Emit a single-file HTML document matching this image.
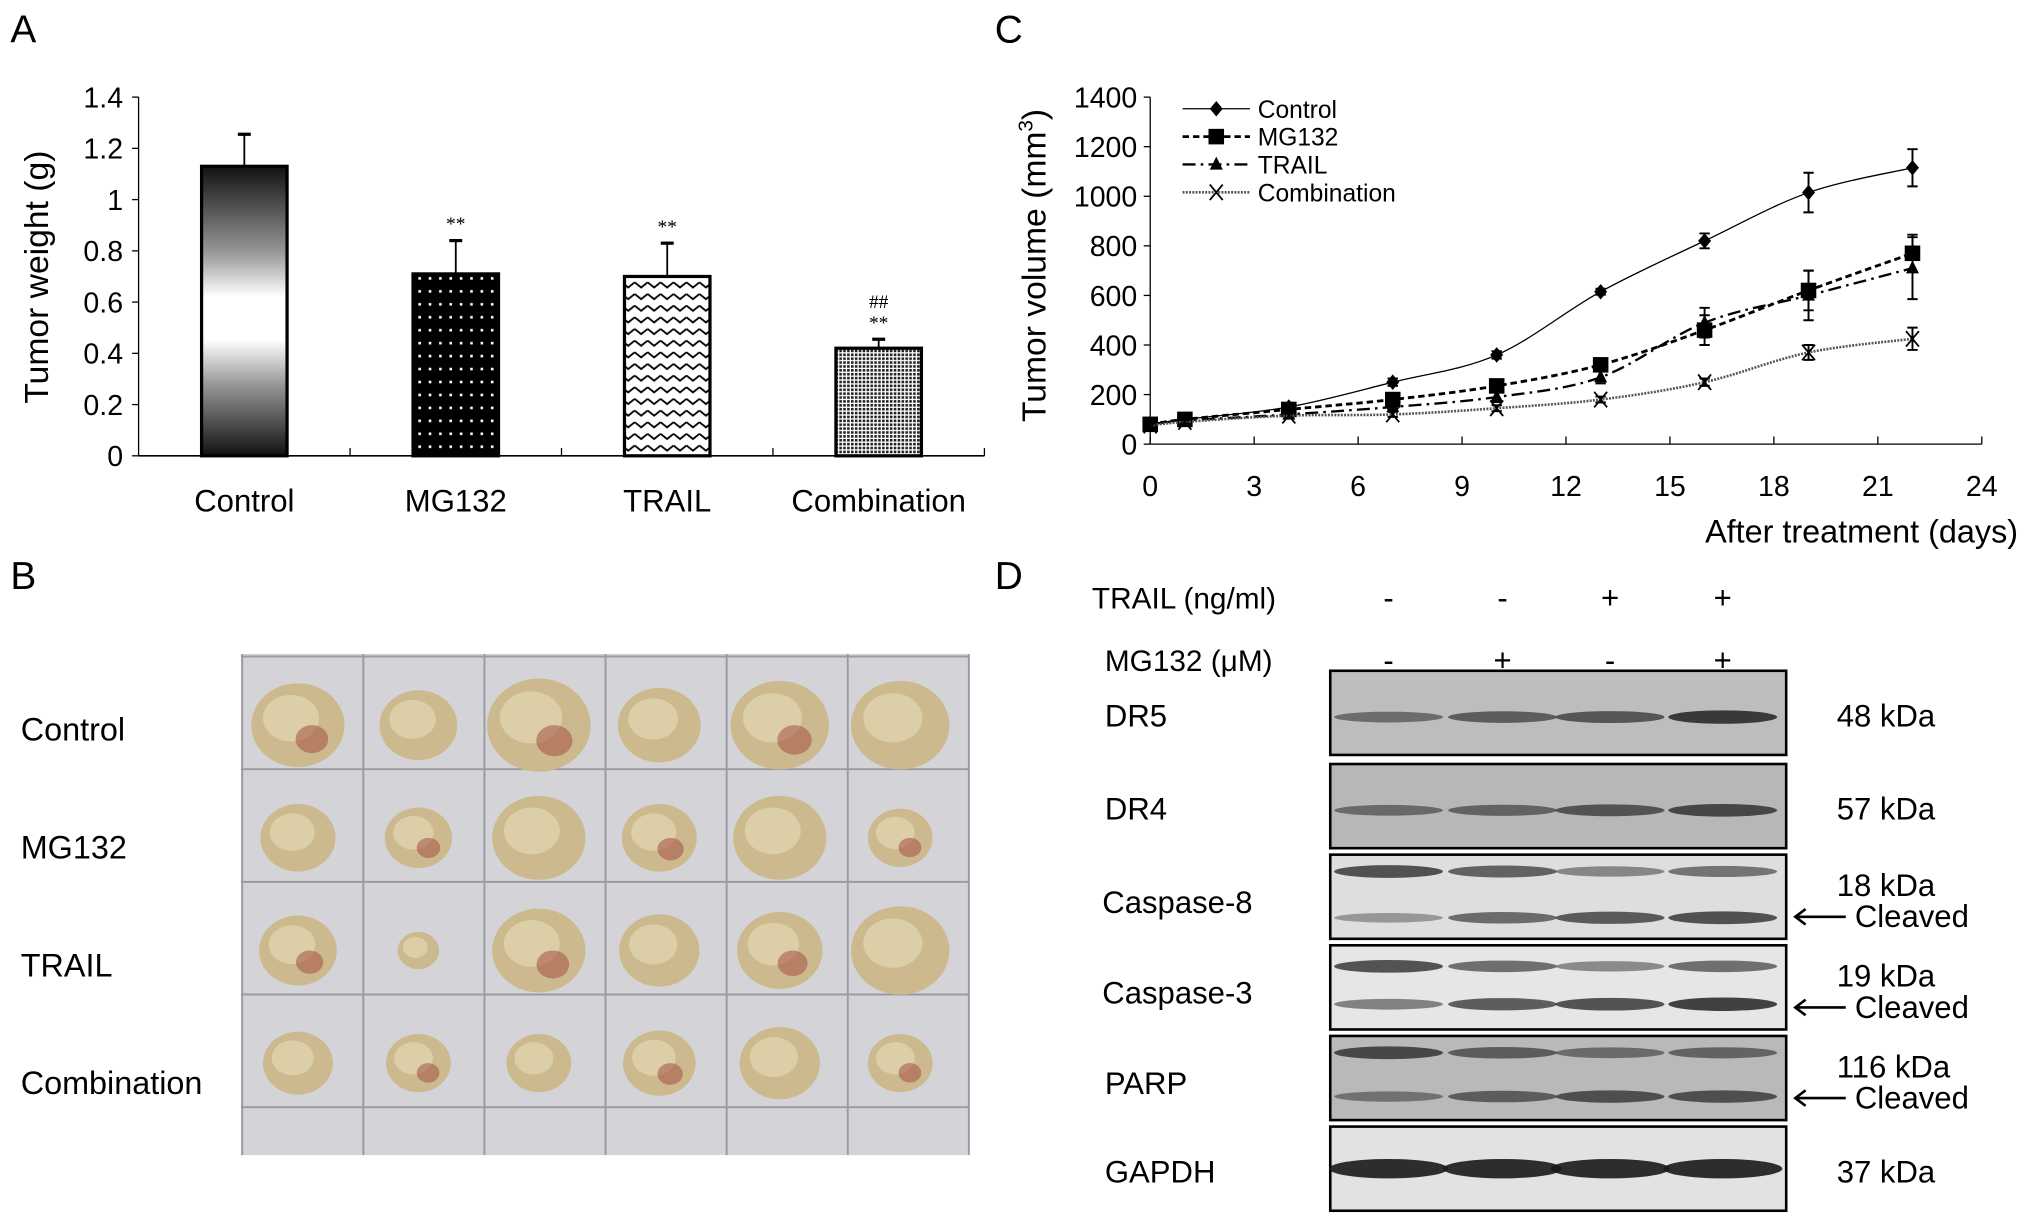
<!DOCTYPE html>
<html><head><meta charset="utf-8"><style>
html,body{margin:0;padding:0;background:#fff;}
svg{display:block;font-family:"Liberation Sans",sans-serif;}
</style></head><body>
<svg id="fig" width="2031" height="1225" viewBox="0 0 1568 946" preserveAspectRatio="none" xmlns="http://www.w3.org/2000/svg">
<defs>
<linearGradient id="gctrl" x1="0" y1="0" x2="0" y2="1">
<stop offset="0" stop-color="#111"/><stop offset="0.3" stop-color="#999"/><stop offset="0.45" stop-color="#fff"/><stop offset="0.6" stop-color="#fff"/><stop offset="0.75" stop-color="#999"/><stop offset="1" stop-color="#111"/></linearGradient>
<pattern id="pdots" width="8" height="10" patternUnits="userSpaceOnUse"><rect width="8" height="10" fill="#000"/><rect x="3" y="4" width="2" height="2" fill="#fff"/></pattern>
<pattern id="pzig" width="10" height="9" patternUnits="userSpaceOnUse"><rect width="10" height="9" fill="#fff"/><path d="M0,2 L5,6 L10,2" fill="none" stroke="#000" stroke-width="1.4"/></pattern>
<pattern id="pcheck" width="3" height="3" patternUnits="userSpaceOnUse"><rect width="3" height="3" fill="#fff"/><rect width="2" height="2" fill="#222"/></pattern>
</defs>
<g id="panelA"></g>
<g id="panelC"></g>
<g id="panelB"></g>
<g id="panelD"></g>
</svg>
<script>
// ---- Panel A data
const aCategories = ["Control","MG132","TRAIL","Combination"];
const aValues = [1.13, 0.71, 0.70, 0.42];
const aErrors = [0.125, 0.13, 0.13, 0.035];
const aTicks = [0,0.2,0.4,0.6,0.8,1,1.2,1.4];
const aTickLabels = ["0","0.2","0.4","0.6","0.8","1","1.2","1.4"];
const aMarks = ["", "**", "**", "**"];
// ---- Panel C data
const cDays = [0,1,4,7,10,13,16,19,22];
const cControl = [80,100,150,250,360,615,820,1015,1115];
const cMG132 = [80,100,140,180,235,320,460,620,770];
const cTRAIL = [80,95,120,150,190,270,490,600,710];
const cCombination = [75,90,115,120,145,180,250,370,425];
const cControlErr = [10,10,15,15,15,12,30,80,75];
const cMG132Err = [10,10,12,20,20,25,60,80,75];
const cTRAILErr = [10,10,12,15,20,25,60,100,125];
const cCombinationErr = [8,8,10,10,12,12,15,30,45];
const cXTicks = [0,3,6,9,12,15,18,21,24];
const cYTicks = [0,200,400,600,800,1000,1200,1400];

const NS="http://www.w3.org/2000/svg";
function mk(parent,tag,attrs,text){const e=document.createElementNS(NS,tag);for(const k in attrs)e.setAttribute(k,attrs[k]);if(text!==undefined)e.textContent=text;parent.appendChild(e);return e;}

// ===== Panel A
(function(){
const g=document.getElementById('panelA');
let t=mk(g,'text',{x:8,y:33,'font-size':30},'A');


const x0=107,x1=760,y0=352,yTop=75,maxV=1.4;
const ya=v=>y0-(v/maxV)*(y0-yTop);
const band=(x1-x0)/aCategories.length;
const xa=i=>x0+band*(i+0.5);
let ax=mk(g,'line',{x1:x0,y1:yTop,x2:x0,y2:y0,stroke:'#000','stroke-width':1});


let bx=mk(g,'line',{x1:x0,y1:y0,x2:x1,y2:y0,stroke:'#000','stroke-width':1.3});


aTicks.forEach((v,i)=>{
 mk(g,'line',{x1:x0-5,y1:ya(v),x2:x0,y2:ya(v),stroke:'#000'});
 const l=mk(g,'text',{x:x0-12,y:ya(v)+8,'font-size':22,'text-anchor':'end'},aTickLabels[i]);
 
 
});
for(let i=1;i<=aCategories.length;i++) mk(g,'line',{x1:x0+band*i,y1:y0-6,x2:x0+band*i,y2:y0,stroke:'#000'});
const fills=['url(#gctrl)','url(#pdots)','url(#pzig)','url(#pcheck)'];
aCategories.forEach((c,i)=>{
 const w=66,cx=xa(i);
 const top=ya(aValues[i]), et=ya(aValues[i]+aErrors[i]);
 mk(g,'line',{x1:cx,y1:top,x2:cx,y2:et,stroke:'#000','stroke-width':1.4});
 mk(g,'line',{x1:cx-5,y1:et,x2:cx+5,y2:et,stroke:'#000','stroke-width':2.5});
 const r=mk(g,'rect',{x:cx-w/2,y:top,width:w,height:y0-top,fill:fills[i],stroke:'#000','stroke-width':2.5});
 
 
 const l=mk(g,'text',{x:cx,y:395,'font-size':24,'text-anchor':'middle'},c);
 
 
 if(aMarks[i]){const s=mk(g,'text',{x:cx,y:et-8,'font-size':15,'text-anchor':'middle','font-family':'Liberation Serif'},aMarks[i]);
  
  }
 if(i===3){const s=mk(g,'text',{x:cx,y:et-24,'font-size':15,'text-anchor':'middle','font-family':'Liberation Serif'},'##');
  
  }
});
const yt=mk(g,'text',{transform:'translate(37,214) rotate(-90)','font-size':26,'text-anchor':'middle'},'Tumor weight (g)');


})();

// ===== Panel C
(function(){
const g=document.getElementById('panelC');
let t=mk(g,'text',{x:768,y:33,'font-size':30},'C');


const x0=888,x1=1530,y0=343,yTop=75;
const xs=d=>x0+d/24*(x1-x0);
const ys=v=>y0-v/1400*(y0-yTop);
let a=mk(g,'line',{x1:x0,y1:yTop,x2:x0,y2:y0,stroke:'#000'});


a=mk(g,'line',{x1:x0,y1:y0,x2:x1,y2:y0,stroke:'#000'});


cYTicks.forEach(v=>{mk(g,'line',{x1:x0-5,y1:ys(v),x2:x0,y2:ys(v),stroke:'#000'});
 const l=mk(g,'text',{x:x0-10,y:ys(v)+8,'font-size':22,'text-anchor':'end'},String(v));
 
 });
cXTicks.forEach(v=>{mk(g,'line',{x1:xs(v),y1:y0-6,x2:xs(v),y2:y0,stroke:'#000'});
 const l=mk(g,'text',{x:xs(v),y:383,'font-size':22,'text-anchor':'middle'},String(v));
 
 });
let xt=mk(g,'text',{x:1558,y:419,'font-size':25,'text-anchor':'end'},'After treatment (days)');


let yt=mk(g,'text',{transform:'translate(807,205) rotate(-90)','font-size':26,'text-anchor':'middle'});


yt.innerHTML='Tumor volume (mm<tspan dy="-10" font-size="16">3</tspan><tspan dy="10">)</tspan>';
function smooth(pts){let d='M'+pts[0][0]+','+pts[0][1];
 for(let i=0;i<pts.length-1;i++){const p0=pts[i-1]||pts[i],p1=pts[i],p2=pts[i+1],p3=pts[i+2]||p2;
  d+=' C'+(p1[0]+(p2[0]-p0[0])/6)+','+(p1[1]+(p2[1]-p0[1])/6)+' '+(p2[0]-(p3[0]-p1[0])/6)+','+(p2[1]-(p3[1]-p1[1])/6)+' '+p2[0]+','+p2[1];}
 return d;}
const series=[
 {n:'control',v:cControl,e:cControlErr,dash:'',w:1,col:'#000',m:'diamond'},
 {n:'mg132',v:cMG132,e:cMG132Err,dash:'5,3',w:2.2,col:'#000',m:'square'},
 {n:'trail',v:cTRAIL,e:cTRAILErr,dash:'10,4,2,4',w:1.8,col:'#000',m:'triangle'},
 {n:'combination',v:cCombination,e:cCombinationErr,dash:'1.5,1',w:2,col:'#555',m:'x'}];
function marker(gg,m,x,y,s){
 if(m==='diamond')return mk(gg,'path',{d:`M${x},${y-6}L${x+5},${y}L${x},${y+6}L${x-5},${y}Z`,fill:'#000'});
 if(m==='square')return mk(gg,'rect',{x:x-s,y:y-s,width:2*s,height:2*s,fill:'#000'});
 if(m==='triangle')return mk(gg,'path',{d:`M${x},${y-6}L${x+5},${y+4}L${x-5},${y+4}Z`,fill:'#000'});
 return mk(gg,'path',{d:`M${x-5},${y-6}L${x+5},${y+6}M${x+5},${y-6}L${x-5},${y+6}`,stroke:'#000','stroke-width':1.4,fill:'none'});}
series.forEach(s=>{
 const gg=mk(g,'g',{});
 
 
 const pts=cDays.map((d,i)=>[xs(d),ys(s.v[i])]);
 const p=mk(gg,'path',{d:smooth(pts),fill:'none',stroke:s.col,'stroke-width':s.w,'stroke-dasharray':s.dash});
 
 
 cDays.forEach((d,i)=>{
  const x=xs(d),yh=ys(s.v[i]+s.e[i]),yl=ys(s.v[i]-s.e[i]);
  mk(gg,'path',{d:`M${x},${yh}V${yl}M${x-4},${yh}H${x+4}M${x-4},${yl}H${x+4}`,stroke:'#000','stroke-width':1.5,fill:'none'});
  const mm=marker(gg,s.m,x,ys(s.v[i]),6);
  
  
 });
});
const lg=mk(g,'g',{});


const names=['Control','MG132','TRAIL','Combination'];
series.forEach((s,i)=>{
 const y=84+i*21.5;
 const e=mk(lg,'g',{});
 
 
 mk(e,'line',{x1:913,y1:y,x2:965,y2:y,stroke:s.col,'stroke-width':s.w,'stroke-dasharray':s.dash});
 marker(e,s.m,939,y,6);
 mk(e,'text',{x:971,y:y+7,'font-size':19},names[i]);
});
})();

// ===== Panel B photo
(function(){
const g=document.getElementById('panelB');
let t=mk(g,'text',{x:8,y:455,'font-size':30},'B');


const ph=mk(g,'rect',{x:186,y:505,width:562,height:387,fill:'#d4d4d8'});


for(let r=0;r<=4;r++)mk(g,'line',{x1:186,y1:507+r*87,x2:748,y2:507+r*87,stroke:'#9a9aa4','stroke-width':1.5});
for(let c=0;c<=6;c++)mk(g,'line',{x1:187+c*93.5,y1:505,x2:187+c*93.5,y2:892,stroke:'#9a9aa4','stroke-width':1.5});
const rows=['Control','MG132','TRAIL','Combination'];
const sizes=[[36,30,40,32,38,38],[29,26,36,29,36,25],[30,16,36,31,33,38],[27,25,25,28,31,25]];
rows.forEach((rn,r)=>{
 const l=mk(g,'text',{x:16,y:572+r*91,'font-size':25},rn);
 
 
 for(let c=0;c<6;c++){
  const cx=230+c*93, cy=560+r*87, s=sizes[r][c];
  const e=mk(g,'ellipse',{cx:cx,cy:cy,rx:s,ry:s*0.9,fill:'#cdb98e'});
  
  
  mk(g,'ellipse',{cx:cx-s*0.15,cy:cy-s*0.15,rx:s*0.6,ry:s*0.5,fill:'#dccfa8'});
  if((r+c)%2===0)mk(g,'ellipse',{cx:cx+s*0.3,cy:cy+s*0.3,rx:s*0.35,ry:s*0.3,fill:'#a85a4a','opacity':0.6});
 }
});
})();

// ===== Panel D blots
(function(){
const g=document.getElementById('panelD');
let t=mk(g,'text',{x:768,y:455,'font-size':30},'D');


const lanes=[1072,1160,1243,1330];
const trail=['-','-','+','+'], mg=['-','+','-','+'];
let l=mk(g,'text',{x:843,y:470,'font-size':23},'TRAIL (ng/ml)');


l=mk(g,'text',{x:853,y:518,'font-size':23},'MG132 (μM)');


lanes.forEach((x,i)=>{mk(g,'text',{x:x,y:470,'font-size':24,'text-anchor':'middle'},trail[i]);
 mk(g,'text',{x:x,y:518,'font-size':24,'text-anchor':'middle'},mg[i]);});
const blots=[
 {n:'DR5',y:518,bg:'#bdbdbd',kda:'48 kDa',bands:[[0.55,0.65,0.7,0.9]],by:[0.55],cl:false},
 {n:'DR4',y:590,bg:'#b7b7b7',kda:'57 kDa',bands:[[0.55,0.6,0.7,0.8]],by:[0.55],cl:false},
 {n:'Caspase-8',y:660,bg:'#dedede',kda:'18 kDa',bands:[[0.8,0.7,0.5,0.6],[0.4,0.65,0.75,0.8]],by:[0.2,0.75],cl:true},
 {n:'Caspase-3',y:730,bg:'#e6e6e6',kda:'19 kDa',bands:[[0.8,0.65,0.5,0.65],[0.55,0.75,0.8,0.9]],by:[0.25,0.7],cl:true},
 {n:'PARP',y:800,bg:'#b9b9b9',kda:'116 kDa',bands:[[0.8,0.65,0.55,0.6],[0.5,0.65,0.75,0.75]],by:[0.2,0.72],cl:true},
 {n:'GAPDH',y:870,bg:'#e2e2e2',kda:'37 kDa',bands:[[1,1,1,1]],by:[0.5],cl:false,thick:true}];
blots.forEach(b=>{
 const gg=mk(g,'g',{});
 
 
 mk(gg,'rect',{x:1027,y:b.y,width:352,height:65,fill:b.bg,stroke:'#000','stroke-width':2});
 b.bands.forEach((row,j)=>{
  row.forEach((v,i)=>{
   const h=b.thick?15:5+v*6;
   mk(gg,'ellipse',{cx:lanes[i],cy:b.y+65*b.by[j],rx:b.thick?46:42,ry:h/2,fill:'#1a1a1a','opacity':b.thick?0.9:v*0.9});
  });
 });
 const lab=mk(gg,'text',{x:b.n.length>5?851:853,y:b.y+(b.cl?45:43),'font-size':24},b.n);
 
 
 const k=mk(gg,'text',{x:1418,y:b.cl?b.y+32:b.y+43,'font-size':24},b.kda);
 
 
 if(b.cl){
  const ay=b.y+48;
  mk(gg,'path',{d:`M1425,${ay}H1386M1394,${ay-6}L1386,${ay}L1394,${ay+6}`,stroke:'#000','stroke-width':2,fill:'none'});
  const c=mk(gg,'text',{x:1432,y:ay+8,'font-size':24},'Cleaved');
  
  
 }
});
})();
</script>
</body></html>
